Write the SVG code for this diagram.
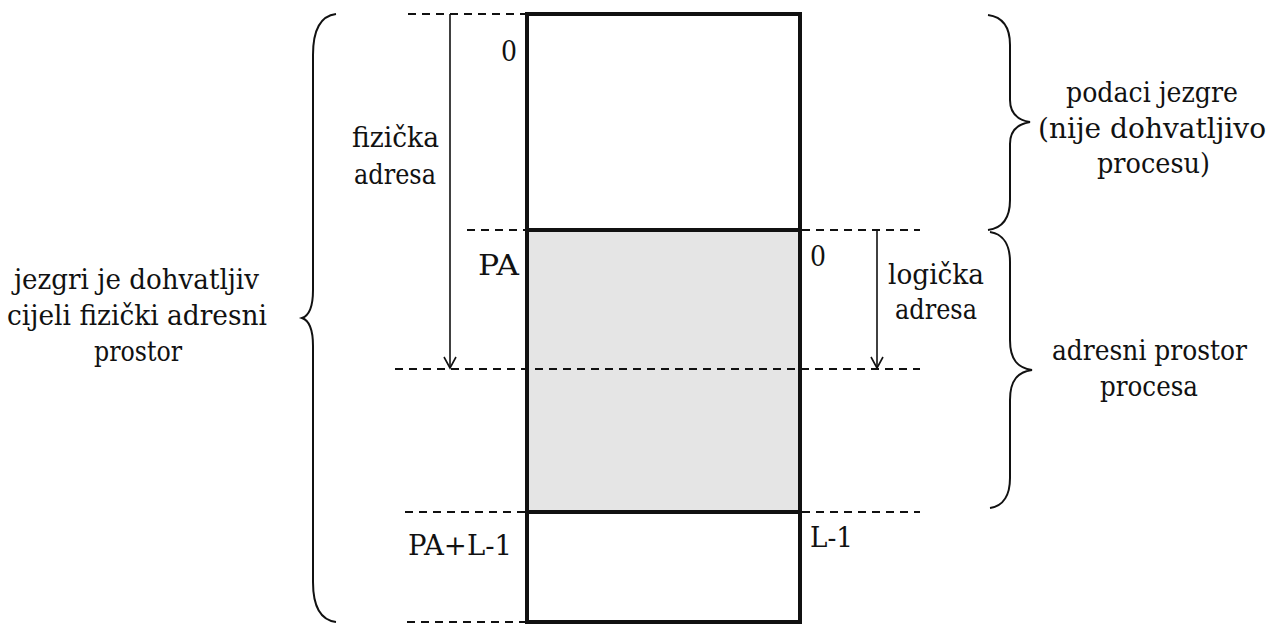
<svg xmlns="http://www.w3.org/2000/svg" width="1273" height="624" viewBox="0 0 1273 624">
<style>
  text { font-family: "DejaVu Serif", serif; font-size: 28px; fill: #111; }
  .dash { stroke: #111; stroke-width: 2; stroke-dasharray: 8 6; fill: none; }
  .thick { stroke: #111; stroke-width: 4; fill: none; }
  .brace { stroke: #111; stroke-width: 2; fill: none; }
  .arrow { stroke: #111; stroke-width: 1.6; fill: none; }
</style>
<defs>
  <marker id="vee" viewBox="0 0 14 14" refX="12" refY="7" markerWidth="14" markerHeight="14" markerUnits="userSpaceOnUse" orient="auto">
    <path d="M1,1 L12,7 L1,13" fill="none" stroke="#111" stroke-width="1.6"/>
  </marker>
</defs>
<rect width="1273" height="624" fill="#fff"/>

<g id="memory">
  <rect x="527" y="230" width="273" height="282" fill="#e5e5e5"/>
  <rect x="527" y="14" width="273" height="608" class="thick"/>
  <line x1="527" y1="230" x2="800" y2="230" class="thick"/>
  <line x1="527" y1="512" x2="800" y2="512" class="thick"/>
</g>

<g id="connectors">
  <line x1="408" y1="14" x2="525" y2="14" class="dash"/>
  <line x1="467" y1="230" x2="525" y2="230" class="dash"/>
  <line x1="802" y1="230" x2="920" y2="230" class="dash"/>
  <line x1="395" y1="369" x2="920" y2="369" class="dash"/>
  <line x1="405" y1="512" x2="525" y2="512" class="dash"/>
  <line x1="802" y1="512" x2="920" y2="512" class="dash"/>
  <line x1="407" y1="622" x2="525" y2="622" class="dash"/>
  <line x1="450" y1="14" x2="450" y2="368" class="arrow" marker-end="url(#vee)"/>
  <line x1="877" y1="230" x2="877" y2="368" class="arrow" marker-end="url(#vee)"/>
</g>

<g id="brace-left">
  <path class="brace" d="M336,14 C320,16 313,30 313,55 L313,290 C313,308 308,316 302,318 C308,320 313,328 313,346 L313,582 C313,606 320,620 336,622"/>
  <text x="14" y="289" textLength="245" lengthAdjust="spacingAndGlyphs">jezgri je dohvatljiv</text>
  <text x="7" y="325" textLength="260" lengthAdjust="spacingAndGlyphs">cijeli fizički adresni</text>
  <text x="94" y="361" textLength="88" lengthAdjust="spacingAndGlyphs">prostor</text>
</g>

<g id="brace-kernel">
  <path class="brace" d="M988,15 C1003,17 1010,28 1010,45 L1010,100 C1010,114 1018,120 1030,122 C1018,124 1010,130 1010,144 L1010,200 C1010,218 1003,228 988,230"/>
  <text x="1066" y="102" textLength="172" lengthAdjust="spacingAndGlyphs">podaci jezgre</text>
  <text x="1038" y="138" textLength="228" lengthAdjust="spacingAndGlyphs">(nije dohvatljivo</text>
  <text x="1097" y="173" textLength="113" lengthAdjust="spacingAndGlyphs">procesu)</text>
</g>

<g id="brace-process">
  <path class="brace" d="M990,232 C1004,234 1010,246 1010,262 L1010,340 C1010,360 1018,368 1032,370 C1018,372 1010,380 1010,400 L1010,478 C1010,494 1004,506 990,508"/>
  <text x="1052" y="360" textLength="195" lengthAdjust="spacingAndGlyphs">adresni prostor</text>
  <text x="1100" y="396" textLength="98" lengthAdjust="spacingAndGlyphs">procesa</text>
</g>

<g id="labels">
  <text x="501" y="61" textLength="16" lengthAdjust="spacingAndGlyphs">0</text>
  <text x="352" y="147" textLength="87" lengthAdjust="spacingAndGlyphs">fizička</text>
  <text x="354" y="184" textLength="82" lengthAdjust="spacingAndGlyphs">adresa</text>
  <text x="478" y="275" textLength="41" lengthAdjust="spacingAndGlyphs">PA</text>
  <text x="810" y="266" textLength="16" lengthAdjust="spacingAndGlyphs">0</text>
  <text x="888" y="284" textLength="96" lengthAdjust="spacingAndGlyphs">logička</text>
  <text x="895" y="319" textLength="82" lengthAdjust="spacingAndGlyphs">adresa</text>
  <text x="408" y="555" textLength="104" lengthAdjust="spacingAndGlyphs">PA+L-1</text>
  <text x="810" y="547" textLength="43" lengthAdjust="spacingAndGlyphs">L-1</text>
</g>
</svg>
